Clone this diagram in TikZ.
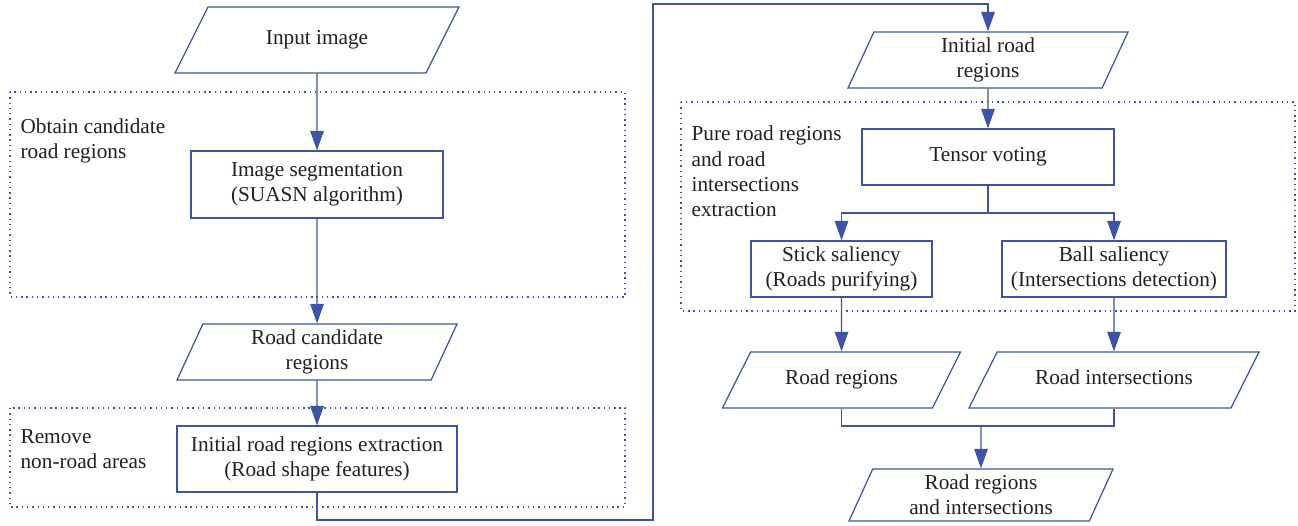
\documentclass[tikz,border=0pt]{standalone}
\usepackage{fontspec}
\setmainfont{Liberation Serif}
\usetikzlibrary{shapes.geometric,arrows.meta}
\definecolor{flowblue}{RGB}{61,84,165}
\definecolor{flowtext}{RGB}{35,31,32}
\tikzstyle{every node}=[text=flowtext, font=\fontsize{12.1}{14.4}\selectfont]
\tikzstyle{procbox}=[draw=flowblue, rectangle, minimum height=1.12cm, align=center, inner sep=2pt]
\tikzstyle{iobox}=[draw=flowblue, trapezium, trapezium left angle=63.4, trapezium right angle=116.6,
    trapezium stretches body=true, minimum height=1.12cm, align=center, inner sep=2pt]
\tikzstyle{oneline}=[text height=8.5pt, text depth=3pt, inner ysep=10.2pt]
\tikzstyle{group}=[draw=flowblue, dash pattern=on 0.8pt off 2.2pt]
\tikzstyle{grouptext}=[anchor=north west, align=left, inner sep=0pt]
\tikzstyle{arr}=[-{Triangle[length=3.9mm, width=2.7mm]}]

\begin{document}
\begin{tikzpicture}[line width=0.7pt, color=flowblue]
            \useasboundingbox (0, 0) rectangle (25.96, -10.5);

            \draw[group] (0.2, -1.84) rectangle (12.5, -5.94);
            \draw[group] (0.2, -8.16) rectangle (12.5, -10.14);
            \draw[group] (13.62, -2.04) rectangle (25.9, -6.22);

            \node[grouptext] (gobtain) at (0.4, -2.36) {Obtain candidate\\road regions};
            \node[grouptext] (gremove) at (0.4, -8.58) {Remove\\non-road areas};
            \node[grouptext] (gpure) at (13.82, -2.51)
                {Pure road regions\\and road\\intersections\\extraction};

            \node[iobox, oneline, inner ysep=13pt, minimum width=5.68cm, minimum height=1.32cm] (input)
                at (6.34, -0.8) {Input image};
            \node[procbox, minimum width=5.04cm, minimum height=1.34cm] (seg) at (6.34, -3.69)
                {Image segmentation\\(SUASN algorithm)};
            \node[iobox, minimum width=5.6cm] (cand) at (6.34, -7.04) {Road candidate\\regions};
            \node[procbox, minimum width=5.6cm, minimum height=1.32cm] (extr) at (6.34, -9.18)
                {Initial road regions extraction\\(Road shape features)};

            \node[iobox, minimum width=5.6cm] (init) at (19.76, -1.2) {Initial road\\regions};
            \node[procbox, minimum width=5.04cm] (tensor) at (19.76, -3.14) {Tensor voting};
            \node[procbox, minimum width=3.62cm] (stick) at (16.83, -5.38)
                {Stick saliency\\(Roads purifying)};
            \node[procbox, minimum width=4.48cm] (ball) at (22.28, -5.38)
                {Ball saliency\\(Intersections detection)};
            \node[iobox, oneline, minimum width=4.76cm] (roads) at (16.83, -7.6) {Road regions};
            \node[iobox, oneline, minimum width=5.8cm] (inters) at (22.28, -7.6) {Road intersections};
            \node[iobox, minimum width=5.28cm, minimum height=1.04cm] (result) at (19.62, -9.9)
                {Road regions\\and intersections};

            \coordinate (low) at (13.06, -10.4);
            \coordinate (high) at (13.06, -0.08);
            \coordinate (split) at (19.76, -4.26);
            \coordinate (merge) at (19.62, -8.52);

            \draw[arr] (input) -- (seg);
            \draw[arr] (seg) -- (cand);
            \draw[arr] (cand) -- (extr);
            \draw[arr] (extr.south) |- (low) -- (high) -| (init);
            \draw[arr] (init) -- (tensor);
            \draw (tensor.south) -- (split);
            \draw[arr] (split) -| (stick);
            \draw[arr] (split) -| (ball);
            \draw[arr] (stick) -- (roads);
            \draw[arr] (ball) -- (inters);
            \draw (roads) |- (merge);
            \draw (inters) |- (merge);
            \draw[arr] (merge) -- (result);
        \end{tikzpicture}
\end{document}
